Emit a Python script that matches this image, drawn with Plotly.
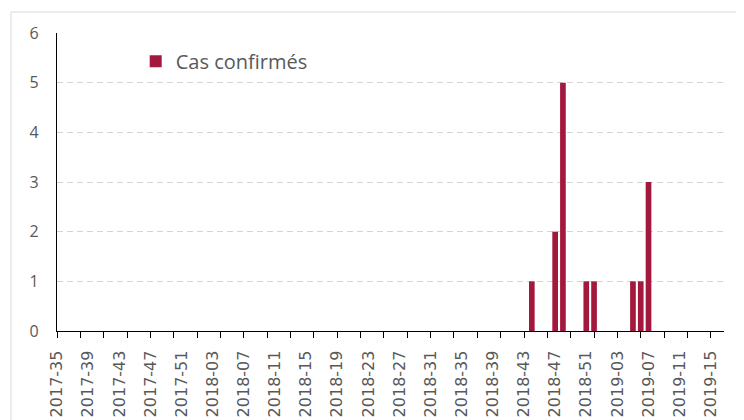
import plotly.graph_objects as go

# Categories: ISO weeks shown on the axis
weeks = ([f"2017-{w:02d}" for w in range(35, 53)]
         + [f"2018-{w:02d}" for w in range(1, 53)]
         + [f"2019-{w:02d}" for w in range(1, 16)])
tick_labels = weeks[::4]
minor_tick_positions = list(range(0, len(weeks), 3))

# Confirmed cases (weeks with non-zero counts)
case_weeks = ["2018-44", "2018-47", "2018-48", "2018-51", "2018-52",
              "2019-05", "2019-06", "2019-07"]
case_counts = [1, 2, 5, 1, 1, 1, 1, 3]

BAR = "#A3193D"
GREY_TXT = "#595959"
x_range = [-0.02, 85.7]

fig = go.Figure()
fig.add_trace(go.Bar(x=case_weeks, y=case_counts, name="Cas confirmés",
                     marker=dict(color=BAR, line=dict(width=0)),
                     showlegend=True))
# invisible helper trace so the tick-mark axis is drawn
fig.add_trace(go.Scatter(x=[0], y=[0], xaxis="x2", mode="markers",
                         marker=dict(opacity=0), showlegend=False,
                         hoverinfo="skip"))

fig.update_layout(
    width=736, height=412,
    margin=dict(l=49, r=20, t=25, b=89, autoexpand=False),
    paper_bgcolor="white", plot_bgcolor="white",
    bargap=0.27,
    showlegend=True,
    legend=dict(x=0.118, y=0.905, xanchor="left", yanchor="middle",
                bgcolor="rgba(0,0,0,0)",
                font=dict(family="Open Sans", size=20, color=GREY_TXT)),
    xaxis=dict(type="category", categoryorder="array", categoryarray=weeks,
               range=x_range, tickmode="array", tickvals=tick_labels,
               ticktext=tick_labels, tickangle=-90, ticks="",
               ticklabelstandoff=12,
               tickfont=dict(family="DejaVu Sans", size=16, color=GREY_TXT),
               showline=True, linecolor="black", linewidth=1.3,
               showgrid=False, zeroline=False, automargin=False),
    xaxis2=dict(overlaying="x", anchor="y", range=x_range,
                tickmode="array", tickvals=minor_tick_positions,
                ticks="outside", ticklen=6, tickwidth=1.3, tickcolor="black",
                showticklabels=False, showline=False, showgrid=False,
                zeroline=False, automargin=False),
    yaxis=dict(range=[0, 6], tickmode="linear", tick0=0, dtick=1,
               showline=True, linecolor="black", linewidth=1.3,
               showgrid=True, gridcolor="#D4D4D4", griddash="6px,4px",
               gridwidth=1, zeroline=False, ticks="",
               ticklabelstandoff=14, automargin=False,
               tickfont=dict(family="Open Sans", size=16, color=GREY_TXT)),
    shapes=[dict(type="rect", xref="paper", yref="paper",
                 x0=-0.069, x1=1.0255, y0=-0.34, y1=1.0705,
                 line=dict(color="#D9D9D9", width=1),
                 fillcolor="rgba(0,0,0,0)", layer="below")],
)

fig.write_html("out.html")
